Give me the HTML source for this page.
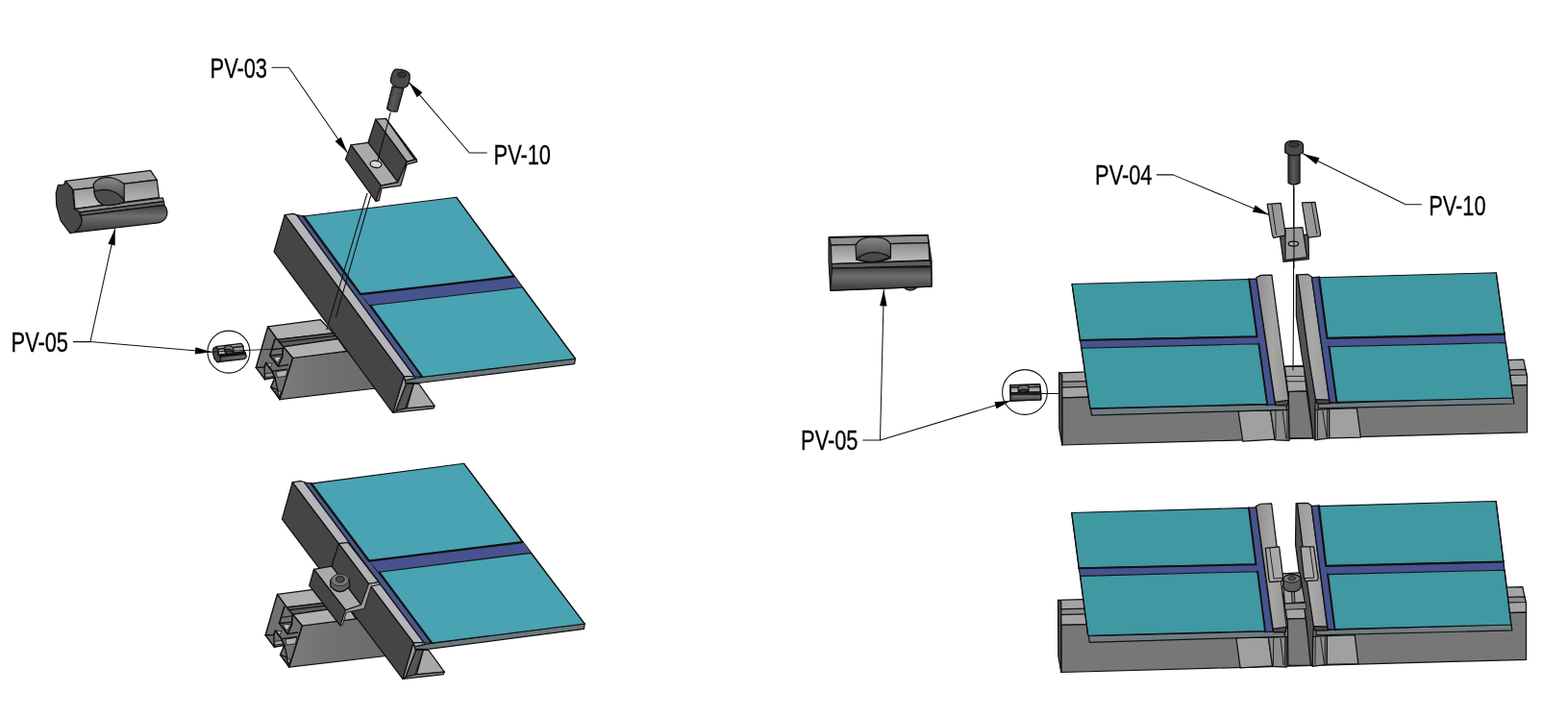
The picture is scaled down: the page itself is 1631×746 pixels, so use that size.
<!DOCTYPE html>
<html lang="en">
<head>
<meta charset="utf-8">
<title>PV mounting assembly</title>
<style>
html,body{margin:0;padding:0;background:#fff;}
body{width:1631px;height:746px;overflow:hidden;}
svg{display:block;filter:blur(0.45px);}
text{font-family:"Liberation Sans",sans-serif;fill:#000;stroke:#000;stroke-width:0.3px;}
polygon,polyline,path,line,ellipse,circle{stroke-linejoin:round;stroke-linecap:round;}
</style>
</head>
<body>
<svg width="1631" height="746" viewBox="0 0 1631 746">
<defs>

<linearGradient id="gScrewL" gradientUnits="userSpaceOnUse" x1="403" y1="100" x2="419" y2="104"><stop offset="0" stop-color="#333"/><stop offset="0.45" stop-color="#5a5a5a"/><stop offset="1" stop-color="#383838"/></linearGradient>
<linearGradient id="gScrewR" gradientUnits="userSpaceOnUse" x1="1340" y1="0" x2="1352" y2="0"><stop offset="0" stop-color="#333"/><stop offset="0.45" stop-color="#5a5a5a"/><stop offset="1" stop-color="#383838"/></linearGradient>
<linearGradient id="gHole" x1="0" y1="0" x2="0" y2="1"><stop offset="0" stop-color="#8a8a8a"/><stop offset="0.6" stop-color="#5a5a5a"/><stop offset="1" stop-color="#444"/></linearGradient>
<linearGradient id="gFrameR" gradientUnits="objectBoundingBox" x1="0" y1="0.5" x2="1" y2="0.55"><stop offset="0" stop-color="#9c9c9c"/><stop offset="0.5" stop-color="#a8a8a6"/><stop offset="1" stop-color="#9696a0"/></linearGradient>
<linearGradient id="gRailL" gradientUnits="userSpaceOnUse" x1="290" y1="0" x2="400" y2="0"><stop offset="0" stop-color="#7c7c7c"/><stop offset="0.4" stop-color="#717171"/><stop offset="1" stop-color="#6a6a6a"/></linearGradient>
<linearGradient id="gNutFront" x1="0" y1="0" x2="0" y2="1"><stop offset="0" stop-color="#8a8a8a"/><stop offset="1" stop-color="#c4c4c4"/></linearGradient>
<linearGradient id="gNutCyl" x1="0" y1="0" x2="0" y2="1"><stop offset="0" stop-color="#3c3c3c"/><stop offset="0.4" stop-color="#6e6e6e"/><stop offset="1" stop-color="#3a3a3a"/></linearGradient>
<linearGradient id="gRound" x1="0" y1="0" x2="1" y2="0"><stop offset="0" stop-color="#8e8e94"/><stop offset="0.5" stop-color="#a6a6a2"/><stop offset="1" stop-color="#949494"/></linearGradient>

</defs>
<rect width="1631" height="746" fill="#fff"/>
<g transform="translate(0,0)">
<polygon points="304.5,372.5 360.54,365.41 400,358 400,403 290.95,415.62" fill="url(#gRailL)" stroke="#111" stroke-width="1.25" />
<polygon points="278.63,339.86 333.26,332.53 346.53,346.54 288.49,353.41" fill="#b0b0ae" stroke="#111" stroke-width="1.25" />
<polygon points="288.49,353.41 346.53,346.54 351.69,352.73 294.65,360.8" fill="#5c5c5c" stroke="#111" stroke-width="1.25" />
<polyline points="290.58,356.12 348.74,349.49" fill="none" stroke="#111" stroke-width="1.25" />
<polygon points="294.65,360.8 351.69,352.73 360.54,365.41 304.5,372.5" fill="#b0b0ae" stroke="#111" stroke-width="1.25" />
<polygon points="278.63,339.86 266.31,382.36 275.55,394.68 286.02,392.83 281.71,402.69 290.95,415.62 304.5,372.5 294.65,360.8 288.49,353.41" fill="#707070" stroke="#111" stroke-width="1.5" />
<polygon points="284.79,371.27 292.8,371.27 288.49,377.43" fill="#c2c2c2" stroke="#111" stroke-width="0.8" />
<polygon points="277.4,378.05 283.19,378.05 280.48,382.98" fill="#c2c2c2" stroke="#111" stroke-width="0.8" />
<polygon points="287.26,386.67 298.96,384.82 297.48,391.35 288.86,392.58" fill="#b0b0b0" stroke="#111" stroke-width="0.8" />
<polygon points="275.8,388.89 282.94,387.9 285.41,391.35 276.54,392.58" fill="#9c9c9c" stroke="#111" stroke-width="0.8" />
<polygon points="286.64,407.37 292.18,407 290.95,411.8" fill="#c2c2c2" stroke="#111" stroke-width="0.8" />
<polyline points="286.02,352.79 280.73,370.04 289.35,381.13 293.79,371.27 294.28,361.79" fill="none" stroke="#111" stroke-width="1.7" />
<polyline points="280.73,370.04 293.79,368.81" fill="none" stroke="#111" stroke-width="1.4" />
<polyline points="283.93,363.88 294.28,362.28" fill="none" stroke="#111" stroke-width="1.2" />
<polyline points="266.31,382.36 274.94,381.99 276.78,377.43 282.94,386.06 286.02,392.83" fill="none" stroke="#111" stroke-width="1.7" />
<polyline points="274.94,381.99 275.55,394.68" fill="none" stroke="#111" stroke-width="1.4" />
<polyline points="289.35,381.13 299.58,379.53" fill="none" stroke="#111" stroke-width="1.4" />
<polyline points="282.94,386.06 298.96,384.21" fill="none" stroke="#111" stroke-width="1.3" />
<polyline points="281.71,402.69 288.49,405.4 290.95,415.62" fill="none" stroke="#111" stroke-width="1.4" />
<polyline points="286.02,392.83 288.86,405.4" fill="none" stroke="#111" stroke-width="1.4" />
</g>
<g transform="">
<polygon points="430.31,399.22 435.74,399.46 452.03,422.38 423.08,425.03" fill="#a8a8a6" stroke="#111" stroke-width="1.25" />
<polygon points="408.6,429.37 411.62,427.2 421.87,424.79 452.03,422.38 451.06,424.79" fill="#8a8a8a" stroke="#111" stroke-width="1.25" />
<polygon points="422.47,399.46 430.31,399.22 421.87,424.79 411.62,427.2" fill="#555" stroke="#111" stroke-width="1.25" />
<polygon points="420.06,391.62 421.87,396.44 422.47,399.46 411.62,427.2 408.6,429.37" fill="#9a9a9a" stroke="#111" stroke-width="1.25" />
<polygon points="421.87,396.44 432.73,393.43 433.33,396.44 430.92,399.46 422.47,399.46" fill="#3a3a3a" stroke="#111" stroke-width="1.25" />
<polygon points="420.06,391.62 431.52,391.01 432.73,393.43 421.87,396.44" fill="#b0b0b0" stroke="#111" stroke-width="1.25" />
<polygon points="439.36,392.22 598.4,373.2 597.6,378.6 437.55,398.25 421.87,398.25 421.27,395.84" fill="#6b787d" stroke="#111" stroke-width="1.25" />
<polygon points="308.5,223.6 315.8,225 439.36,392.22 430.9,391.6" fill="#48588a" stroke="#111" stroke-width="1.25" />
<polygon points="374.86,306.03 534.51,287.73 543.28,299.01 385.39,317.81" fill="#46538e" stroke="none" stroke-width="1.25" />
<polygon points="315.8,225 474.76,205.27 534.51,287.73 374.86,306.03" fill="#49a3b3" stroke="#111" stroke-width="1.1" />
<polygon points="385.39,317.81 543.28,299.01 598.4,373.2 439.36,392.22" fill="#49a3b3" stroke="#111" stroke-width="1.1" />
<polyline points="315.8,225 374.86,306.03 534.51,287.73" fill="none" stroke="#111" stroke-width="2.3" />
<polyline points="385.39,317.81 439.36,392.22" fill="none" stroke="#111" stroke-width="2.0" />
<polyline points="474.76,205.27 598.4,373.2" fill="none" stroke="#111" stroke-width="1.2" />
<polygon points="296.2,223.6 305.1,222.3 308.5,223.6 430.9,391.6 420.06,391.62" fill="#b4b4ba" stroke="#111" stroke-width="1.25" />
<polygon points="296.2,223.6 285.02,261.92 408.6,429.37 420.06,391.62" fill="#464545" stroke="#111" stroke-width="1.25" />
</g>
<polyline points="381.9,201.25 339.8,342.9" fill="none" stroke="#111" stroke-width="1.1" />
<polyline points="385.6,203.75 349.3,330.3" fill="none" stroke="#111" stroke-width="1.1" />
<polygon points="390.7,124.08 401.27,123.38 432.96,165.63 423.1,168.45" fill="#aaaaa8" stroke="#111" stroke-width="1.25" />
<polygon points="401.27,123.38 432.96,165.63 433.66,168.45 431.55,166.34" fill="#666" stroke="#111" stroke-width="1.25" />
<polygon points="382.96,148.31 390.7,124.08 423.1,168.45 413.94,189.58" fill="#464545" stroke="#111" stroke-width="1.25" />
<polygon points="365.07,150.85 382.96,148.31 413.94,189.58 396.34,193.1" fill="#aaaaa8" stroke="#111" stroke-width="1.25" />
<polygon points="365.07,150.85 359.44,165.63 390.99,209.3 396.34,193.1" fill="#464545" stroke="#111" stroke-width="1.25" />
<polygon points="432.96,165.63 433.66,168.45 423.1,171.27 416.76,193.1 397.04,195.92 394.23,208.59 390.99,209.3 396.34,193.1 413.94,189.58 423.1,168.45" fill="#8a8a8a" stroke="#111" stroke-width="1.25" />
<ellipse cx="390.99" cy="170.85" rx="6" ry="3.6" fill="#d8d8d8" stroke="#111" stroke-width="1.25" transform="rotate(8 390.99 170.85)"/>
<polyline points="406.2,117.04 392.82,167.75" fill="none" stroke="#111" stroke-width="1.1" />
<path d="M408.14,89.83 L402.51,113 Q407.2,117.22 413.3,115.82 L419.87,91.89 Z" fill="url(#gScrewL)" stroke="#111" stroke-width="1.25"/>
<path d="M410.96,72.2 Q407.2,75.01 406.27,84.39 Q408.14,90.02 415.65,91.43 Q423.15,91.89 425.03,87.2 Q426.9,81.58 425.97,76.89 Q422.21,71.73 410.96,72.2 Z" fill="#4a4a4a" stroke="#111" stroke-width="1.25"/>
<ellipse cx="417.99" cy="77.64" rx="4.3" ry="2.8" fill="#333" stroke="#111" stroke-width="0.8"/>
<text transform="translate(218.6,80.9) scale(0.757,1)" font-size="28.8">PV-03</text>
<polyline points="283,70.3 300.5,70.3 361.3,158.8" fill="none" stroke="#111" stroke-width="1.05" />
<polygon points="361.3,158.8 348.583,146.911 354.765,142.665" fill="#000"/>
<text transform="translate(513.6,171.2) scale(0.757,1)" font-size="28.8">PV-10</text>
<polyline points="506.3,159 488.2,159 425.5,85.8" fill="none" stroke="#111" stroke-width="1.05" />
<polygon points="425.5,85.8 439.407,96.2716 433.711,101.151" fill="#000"/>
<text transform="translate(11.6,366.3) scale(0.757,1)" font-size="28.8">PV-05</text>
<polyline points="76.4,355.6 93.9,355.6 119.7,238" fill="none" stroke="#111" stroke-width="1.05" />
<polyline points="93.9,355.6 220,366.3" fill="none" stroke="#111" stroke-width="1.05" />
<polygon points="119.7,238 119.72,255.409 112.394,253.801" fill="#000"/>
<polygon points="220,366.3 202.744,368.599 203.378,361.126" fill="#000"/>
<g id="nutL">
<polygon points="68.14,188.34 66.49,192.19 60.44,192.74 58.25,200.98 58.8,214.17 63.19,229.57 73.09,242.76 81.88,240.56 86.83,231.76 87.38,227.92 82.98,224.07 82.98,219.67 77.48,217.47 75.29,196.58" fill="#484848" stroke="#111" stroke-width="1.25" vector-effect="non-scaling-stroke"/>
<polygon points="68.14,188.34 156.64,177.34 163.24,187.24 76.39,197.68" fill="#a3a3a3" stroke="#111" stroke-width="1.25" vector-effect="non-scaling-stroke"/>
<polygon points="76.39,197.68 163.24,187.24 165.44,205.38 78.03,217.47" fill="url(#gNutFront)" stroke="#111" stroke-width="1.25" vector-effect="non-scaling-stroke"/>
<polygon points="78.03,217.47 169.28,205.93 170.38,209.56 82.98,220.77" fill="#8e8e8e" stroke="#111" stroke-width="1.25" vector-effect="non-scaling-stroke"/>
<polygon points="82.98,220.77 170.38,209.56 170.93,213.29 84.08,224.29" fill="#606060" stroke="#111" stroke-width="1.25" vector-effect="non-scaling-stroke"/>
<path d="M84.08,224.29 L170.93,213.29 Q176.43,219.67 172.03,227.37 Q168.73,231.21 164.34,231.98 L77.48,241.88 Q87.93,233.96 84.08,224.29 Z" fill="url(#gNutCyl)" stroke="#111" stroke-width="1.25" vector-effect="non-scaling-stroke"/>
<path d="M97.27,191.64 Q101.67,184.49 112.66,184.49 Q122.56,185.59 129.16,191.64 L129.16,210.33 Q118.16,214.72 107.17,213.07 Q98.37,208.68 97.27,191.64 Z" fill="url(#gHole)" stroke="#111" stroke-width="1.25" vector-effect="non-scaling-stroke"/>
<path d="M97.82,199.33 Q115.96,193.29 128.28,207.03 L129.16,210.33 Q118.16,214.72 107.17,213.07 Q98.92,208.68 97.82,199.33 Z" fill="#4c4c4c" stroke="#111" stroke-width="1.25" vector-effect="non-scaling-stroke"/>
</g>
<circle cx="237.9" cy="366.1" r="22" fill="none" stroke="#111" stroke-width="1.1"/>
<use href="#nutL" transform="translate(238.9,367) scale(0.30) translate(-116.2,-209.5)"/>
<polyline points="216,366.3 293.46,362.75" fill="none" stroke="#111" stroke-width="0.9" />
<g transform="">
<polygon points="1101.5,387.9 1584.8,374.1 1588.5,391.8 1588.5,400.7 1104.8,413.9" fill="#a4a4a4" stroke="#111" stroke-width="1.25" />
<polygon points="1102.5,397.3 1587,384.4 1588,390 1103.5,403.1" fill="#8c8c8c" stroke="#111" stroke-width="1.25" />
<polygon points="1104.8,413.9 1588.5,400.7 1588.5,449.8 1104.8,463" fill="#777777" stroke="#111" stroke-width="1.25" />
<polygon points="1101.52,387.88 1104.83,389.54 1104.83,463.05 1101.85,446.16" fill="#4f4f4f" stroke="#111" stroke-width="1.25" />
<polygon points="1336.3,381.39 1356.41,381.39 1359.09,406.86 1339.65,407.53" fill="#a4a4a4" stroke="#111" stroke-width="1.25" />
<polyline points="1337.64,391.45 1357.48,391.45" fill="none" stroke="#111" stroke-width="0.9" />
<polyline points="1338.31,396.81 1358.02,396.81" fill="none" stroke="#111" stroke-width="0.9" />
<polygon points="1340.32,407.53 1359.09,406.86 1365.79,455.79 1340.99,455.79" fill="#777777" stroke="#111" stroke-width="1.25" />
</g>
<g transform="">
<polygon points="1288.04,427.64 1321.55,426.97 1326.25,457.13 1292.73,459.14" fill="#a0a0a0" stroke="#111" stroke-width="1.25" />
<polygon points="1321.55,426.97 1340.32,426.3 1340.99,458.47 1326.25,457.8" fill="#8c8c8c" stroke="#111" stroke-width="1.25" />
<polyline points="1326.92,427.64 1326.92,457.13" fill="none" stroke="#111" stroke-width="0.9" />
<polyline points="1338.98,427.64 1338.98,457.13" fill="none" stroke="#111" stroke-width="0.9" />
<polyline points="1334.29,428.31 1337.64,455.79" fill="none" stroke="#111" stroke-width="0.9" />
<polygon points="1382.55,425.63 1411.37,424.69 1415.39,455.12 1382.55,455.79" fill="#a0a0a0" stroke="#111" stroke-width="1.25" />
<polygon points="1367.8,426.3 1382.55,425.63 1382.55,455.79 1367.8,457.8" fill="#8c8c8c" stroke="#111" stroke-width="1.25" />
<polyline points="1370.48,426.97 1370.48,456.46" fill="none" stroke="#111" stroke-width="0.9" />
<polyline points="1380.54,426.97 1380.54,455.79" fill="none" stroke="#111" stroke-width="0.9" />
<polyline points="1375.84,427.64 1379.87,454.45" fill="none" stroke="#111" stroke-width="0.9" />
<polygon points="1134.64,425.46 1338.31,420.27 1338.31,426.3 1135.46,432.09" fill="#707e83" stroke="#111" stroke-width="1.25" />
<polygon points="1371.15,419.87 1574.03,413.57 1574.83,420 1371.15,424.96" fill="#707e83" stroke="#111" stroke-width="1.25" />
<polygon points="1298.77,290.38 1306.81,290.11 1326.25,420.94 1316.86,421.61" fill="#46538e" stroke="#111" stroke-width="1.25" />
<polygon points="1123.33,353.71 1307.54,349.95 1309.3,357.72 1125.09,362.23" fill="#46538e" stroke="none" stroke-width="1.25" />
<polygon points="1115.06,295.56 1299.27,290.55 1307.54,349.95 1123.33,353.71" fill="#4098a2" stroke="#111" stroke-width="1.1" />
<polygon points="1125.09,362.23 1309.3,357.72 1318.07,420.38 1133.86,424.89" fill="#4098a2" stroke="#111" stroke-width="1.1" />
<polyline points="1123.33,353.96 1307.54,350.2 1299.27,290.55" fill="none" stroke="#111" stroke-width="2.0" />
<polyline points="1309.3,357.72 1318.07,420.38" fill="none" stroke="#111" stroke-width="1.8" />
<polyline points="1115.06,295.56 1133.86,424.89" fill="none" stroke="#111" stroke-width="1.2" />
<path d="M1306.81,288.77 L1311.5,286.35 1322.9,286.09 1340.32,416.25 1338.98,421.61 1326.92,421.61 1326.25,418.26 Z" fill="url(#gRound)" stroke="#111" stroke-width="1.25"/>
<polygon points="1326.25,418.26 1340.32,416.25 1338.98,421.61 1326.92,421.61" fill="#4f4f4f" stroke="#111" stroke-width="1.25" />
<polygon points="1348.36,285.82 1349.97,286.76 1361.1,370 1368.47,415.58 1367.8,426.3 1367.8,455.79 1365.79,455.79 1360.43,407.53 1354.13,370 1348.36,328.98" fill="#525252" stroke="#111" stroke-width="1.25" />
<polygon points="1349.71,285.82 1360.43,285.42 1364.45,288.1 1382.55,416.25 1368.47,415.58 1361.1,370" fill="url(#gFrameR)" stroke="#111" stroke-width="1.25" />
<polygon points="1368.47,415.58 1382.55,416.25 1383.22,419.87 1370.08,419.87" fill="#4a4a4a" stroke="#111" stroke-width="1.25" />
<polygon points="1364.45,288.77 1372.49,288.1 1391.26,419.6 1383.22,418.26" fill="#46538e" stroke="#111" stroke-width="1.25" />
<polygon points="1380.39,351.7 1565.11,347.44 1566.36,356.47 1382.4,360.73" fill="#46538e" stroke="none" stroke-width="1.25" />
<polygon points="1372.12,288.8 1556.33,283.78 1565.11,347.44 1380.39,351.7" fill="#4098a2" stroke="#111" stroke-width="1.1" />
<polygon points="1382.4,360.73 1566.36,356.47 1573.88,414.11 1390.42,418.37" fill="#4098a2" stroke="#111" stroke-width="1.1" />
<polyline points="1372.12,288.8 1380.39,351.95 1565.11,347.69" fill="none" stroke="#111" stroke-width="2.2" />
<polyline points="1382.4,360.73 1390.42,418.37" fill="none" stroke="#111" stroke-width="2.0" />
<polyline points="1556.33,283.78 1573.88,414.11" fill="none" stroke="#111" stroke-width="1.2" />
</g>
<polyline points="1345.54,192.16 1345.54,316.97 1345.01,384.75" fill="none" stroke="#111" stroke-width="1.1" />
<polygon points="1331.31,245.16 1360.99,244.23 1361.36,269.58 1335.07,272.39" fill="#555" stroke="#111" stroke-width="1.25" />
<polygon points="1336.95,237.65 1354.79,236.71 1359.48,267.7 1336.95,270.52" fill="#9a9a9a" stroke="#111" stroke-width="1.25" />
<polygon points="1318.17,212.3 1332.25,211.36 1336.95,242.35 1336.01,245.16 1324.74,247.42 1323.43,244.23" fill="#999" stroke="#111" stroke-width="1.25" />
<polygon points="1354.41,210.99 1367.93,210.42 1373.57,242.91 1373.19,245.54 1360.99,247.04 1359.48,243.29" fill="#999" stroke="#111" stroke-width="1.25" />
<polyline points="1322.86,212.3 1327.56,244.23" fill="none" stroke="#111" stroke-width="0.9" />
<polyline points="1364.18,210.99 1369.81,243.29" fill="none" stroke="#111" stroke-width="0.9" />
<ellipse cx="1345.4" cy="253.62" rx="5.2" ry="2.6" fill="#aaa" stroke="#111" stroke-width="1.25"/>
<polyline points="1345.96,194.46 1345.96,278.97" fill="none" stroke="#111" stroke-width="1.1" />
<path d="M1340.03,161.33 L1340.03,190.15 Q1345.54,193.91 1352.06,190.15 L1352.06,161.33 Z" fill="url(#gScrewR)" stroke="#111" stroke-width="1.25"/>
<path d="M1336.77,151.3 Q1336.77,146.29 1346.04,146.29 Q1355.56,146.29 1355.56,151.3 L1355.56,158.82 Q1346.04,165.09 1336.77,158.82 Z" fill="#4a4a4a" stroke="#111" stroke-width="1.25"/>
<ellipse cx="1346.04" cy="150.55" rx="5" ry="2.5" fill="#3a3a3a" stroke="#111" stroke-width="0.8"/>
<text transform="translate(1139.1,192.1) scale(0.757,1)" font-size="28.8">PV-04</text>
<polyline points="1203.43,181.88 1220.23,181.88 1319.97,223.48" fill="none" stroke="#111" stroke-width="1.05" />
<polygon points="1319.97,223.48 1302.84,220.397 1305.72,213.475" fill="#000"/>
<text transform="translate(1486.2,223.6) scale(0.757,1)" font-size="28.8">PV-10</text>
<polyline points="1478.37,212.71 1462.08,212.71 1355.56,160.08" fill="none" stroke="#111" stroke-width="1.05" />
<polygon points="1355.56,160.08 1372.46,164.248 1369.14,170.972" fill="#000"/>
<text transform="translate(833.1,468.1) scale(0.757,1)" font-size="28.8">PV-05</text>
<polyline points="897.67,458.07 915.49,458.07 919.31,301.46" fill="none" stroke="#111" stroke-width="1.05" />
<polyline points="915.49,458.07 1051.73,416.81" fill="none" stroke="#111" stroke-width="1.05" />
<polygon points="919.31,301.46 922.644,318.546 915.147,318.364" fill="#000"/>
<polygon points="1051.73,416.81 1036.55,425.326 1034.37,418.148" fill="#000"/>
<g id="nutR">
<polygon points="862.06,246.61 965.06,244.38 969.01,271.5 969.01,298.11 863.78,302.4 862.06,271.5" fill="#444" stroke="#111" stroke-width="1.25" vector-effect="non-scaling-stroke"/>
<polygon points="862.92,247.47 965.06,244.89 965.92,252.62 864.29,255.19" fill="#8e8e8e" stroke="#111" stroke-width="1.25" vector-effect="non-scaling-stroke"/>
<polygon points="864.29,255.19 965.92,252.62 966.78,270.64 864.98,274.59" fill="url(#gNutFront)" stroke="#111" stroke-width="1.25" vector-effect="non-scaling-stroke"/>
<polygon points="864.98,274.59 967.64,271.16 968.5,276.65 865.49,279.23" fill="#5e5e5e" stroke="#111" stroke-width="1.25" vector-effect="non-scaling-stroke"/>
<polygon points="865.49,279.23 968.5,277.51 969.01,298.11 863.78,302.06" fill="url(#gNutCyl)" stroke="#111" stroke-width="1.25" vector-effect="non-scaling-stroke"/>
<path d="M890.04,256.05 Q892.1,247.12 908.41,246.61 Q924.72,247.12 926.44,255.19 L926.44,268.93 Q909.27,275.79 890.73,269.79 Z" fill="url(#gHole)" stroke="#111" stroke-width="1.25" vector-effect="non-scaling-stroke"/>
<path d="M890.73,269.79 Q905.84,256.91 925.58,267.21 Q909.27,275.79 890.73,269.79 Z" fill="#4a4a4a" stroke="#111" stroke-width="1.25" vector-effect="non-scaling-stroke"/>
</g>
<path d="M940.17,299.31 Q947.04,304.98 953.91,298.97 Z" fill="#555" stroke="#111" stroke-width="1.25"/>
<circle cx="1066" cy="408" r="23.4" fill="none" stroke="#111" stroke-width="1.1"/>
<use href="#nutR" transform="translate(1066.7,408.55) scale(0.30) translate(-915.5,-273.4)"/>
<polyline points="1082.5,409.5 1101.4,409.5" fill="none" stroke="#111" stroke-width="1.0" />
<g transform="translate(-1,236.5)">
<polygon points="1101.5,387.9 1584.8,374.1 1588.5,391.8 1588.5,400.7 1104.8,413.9" fill="#a4a4a4" stroke="#111" stroke-width="1.25" />
<polygon points="1102.5,397.3 1587,384.4 1588,390 1103.5,403.1" fill="#8c8c8c" stroke="#111" stroke-width="1.25" />
<polygon points="1104.8,413.9 1588.5,400.7 1588.5,449.8 1104.8,463" fill="#777777" stroke="#111" stroke-width="1.25" />
<polygon points="1101.52,387.88 1104.83,389.54 1104.83,463.05 1101.85,446.16" fill="#4f4f4f" stroke="#111" stroke-width="1.25" />
<polygon points="1336.3,381.39 1356.41,381.39 1359.09,406.86 1339.65,407.53" fill="#a4a4a4" stroke="#111" stroke-width="1.25" />
<polyline points="1337.64,391.45 1357.48,391.45" fill="none" stroke="#111" stroke-width="0.9" />
<polyline points="1338.31,396.81 1358.02,396.81" fill="none" stroke="#111" stroke-width="0.9" />
<polygon points="1340.32,407.53 1359.09,406.86 1365.79,455.79 1340.99,455.79" fill="#777777" stroke="#111" stroke-width="1.25" />
</g>
<g transform="matrix(1.00001 -0.00110 -0.01384 0.98693 3.711 243.093)">
<polygon points="1288.04,427.64 1321.55,426.97 1326.25,457.13 1292.73,459.14" fill="#a0a0a0" stroke="#111" stroke-width="1.25" />
<polygon points="1321.55,426.97 1340.32,426.3 1340.99,458.47 1326.25,457.8" fill="#8c8c8c" stroke="#111" stroke-width="1.25" />
<polyline points="1326.92,427.64 1326.92,457.13" fill="none" stroke="#111" stroke-width="0.9" />
<polyline points="1338.98,427.64 1338.98,457.13" fill="none" stroke="#111" stroke-width="0.9" />
<polyline points="1334.29,428.31 1337.64,455.79" fill="none" stroke="#111" stroke-width="0.9" />
<polygon points="1382.55,425.63 1411.37,424.69 1415.39,455.12 1382.55,455.79" fill="#a0a0a0" stroke="#111" stroke-width="1.25" />
<polygon points="1367.8,426.3 1382.55,425.63 1382.55,455.79 1367.8,457.8" fill="#8c8c8c" stroke="#111" stroke-width="1.25" />
<polyline points="1370.48,426.97 1370.48,456.46" fill="none" stroke="#111" stroke-width="0.9" />
<polyline points="1380.54,426.97 1380.54,455.79" fill="none" stroke="#111" stroke-width="0.9" />
<polyline points="1375.84,427.64 1379.87,454.45" fill="none" stroke="#111" stroke-width="0.9" />
<polygon points="1134.64,425.46 1338.31,420.27 1338.31,426.3 1135.46,432.09" fill="#707e83" stroke="#111" stroke-width="1.25" />
<polygon points="1371.15,419.87 1574.03,413.57 1574.83,420 1371.15,424.96" fill="#707e83" stroke="#111" stroke-width="1.25" />
<polygon points="1298.77,290.38 1306.81,290.11 1326.25,420.94 1316.86,421.61" fill="#46538e" stroke="#111" stroke-width="1.25" />
<polygon points="1123.33,353.71 1307.54,349.95 1309.3,357.72 1125.09,362.23" fill="#46538e" stroke="none" stroke-width="1.25" />
<polygon points="1115.06,295.56 1299.27,290.55 1307.54,349.95 1123.33,353.71" fill="#4098a2" stroke="#111" stroke-width="1.1" />
<polygon points="1125.09,362.23 1309.3,357.72 1318.07,420.38 1133.86,424.89" fill="#4098a2" stroke="#111" stroke-width="1.1" />
<polyline points="1123.33,353.96 1307.54,350.2 1299.27,290.55" fill="none" stroke="#111" stroke-width="2.0" />
<polyline points="1309.3,357.72 1318.07,420.38" fill="none" stroke="#111" stroke-width="1.8" />
<polyline points="1115.06,295.56 1133.86,424.89" fill="none" stroke="#111" stroke-width="1.2" />
<path d="M1306.81,288.77 L1311.5,286.35 1322.9,286.09 1340.32,416.25 1338.98,421.61 1326.92,421.61 1326.25,418.26 Z" fill="url(#gRound)" stroke="#111" stroke-width="1.25"/>
<polygon points="1326.25,418.26 1340.32,416.25 1338.98,421.61 1326.92,421.61" fill="#4f4f4f" stroke="#111" stroke-width="1.25" />
<polygon points="1348.36,285.82 1349.97,286.76 1361.1,370 1368.47,415.58 1367.8,426.3 1367.8,455.79 1365.79,455.79 1360.43,407.53 1354.13,370 1348.36,328.98" fill="#525252" stroke="#111" stroke-width="1.25" />
<polygon points="1349.71,285.82 1360.43,285.42 1364.45,288.1 1382.55,416.25 1368.47,415.58 1361.1,370" fill="url(#gFrameR)" stroke="#111" stroke-width="1.25" />
<polygon points="1368.47,415.58 1382.55,416.25 1383.22,419.87 1370.08,419.87" fill="#4a4a4a" stroke="#111" stroke-width="1.25" />
<polygon points="1364.45,288.77 1372.49,288.1 1391.26,419.6 1383.22,418.26" fill="#46538e" stroke="#111" stroke-width="1.25" />
<polygon points="1380.39,351.7 1565.11,347.44 1566.36,356.47 1382.4,360.73" fill="#46538e" stroke="none" stroke-width="1.25" />
<polygon points="1372.12,288.8 1556.33,283.78 1565.11,347.44 1380.39,351.7" fill="#4098a2" stroke="#111" stroke-width="1.1" />
<polygon points="1382.4,360.73 1566.36,356.47 1573.88,414.11 1390.42,418.37" fill="#4098a2" stroke="#111" stroke-width="1.1" />
<polyline points="1372.12,288.8 1380.39,351.95 1565.11,347.69" fill="none" stroke="#111" stroke-width="2.2" />
<polyline points="1382.4,360.73 1390.42,418.37" fill="none" stroke="#111" stroke-width="2.0" />
<polyline points="1556.33,283.78 1573.88,414.11" fill="none" stroke="#111" stroke-width="1.2" />
</g>
<polygon points="1333.76,596.85 1352.05,595.98 1357.27,626.46 1336.38,628.2" fill="#a0a0a0" stroke="#111" stroke-width="1.25" />
<polygon points="1336.38,628.2 1358.15,627.33 1359.02,633.43 1337.25,634.3" fill="#888" stroke="#111" stroke-width="0.9" />
<polygon points="1343.69,615.14 1346.3,615.14 1347,626.81 1344.56,626.98" fill="#777" stroke="#111" stroke-width="0.9" />
<polygon points="1316.35,570.38 1330.63,568.99 1334.63,601.21 1332.89,604.69 1320.7,605.56 1319.83,602.08" fill="#a8a8a8" stroke="#111" stroke-width="1.25" />
<polyline points="1320.7,570.73 1325.06,602.08 1334.63,601.21" fill="none" stroke="#111" stroke-width="0.9" />
<polygon points="1352.92,568.99 1366.5,568.99 1371.21,601.21 1370.34,603.82 1358.15,604.69 1356.4,601.21" fill="#a8a8a8" stroke="#111" stroke-width="1.25" />
<polyline points="1362.5,569.34 1366.85,601.21 1356.4,601.56" fill="none" stroke="#111" stroke-width="0.9" />
<path d="M1334.98,602.08 L1334.98,610.79 C1337.25,617.4 1350.83,617.4 1353.27,610.79 L1353.27,602.08 C1350.83,595.98 1337.25,595.98 1334.98,602.08 Z" fill="#5c5c5c" stroke="#111" stroke-width="1.25"/>
<ellipse cx="1343.86" cy="602.08" rx="8.8" ry="4" fill="#7a7a7a" stroke="#111" stroke-width="0.9"/>
<ellipse cx="1343.86" cy="601.73" rx="4" ry="2" fill="#555" stroke="#111" stroke-width="0.8"/>
<g transform="translate(9.8,278.5)">
<polygon points="304.5,372.5 360.54,365.41 400,358 400,403 290.95,415.62" fill="url(#gRailL)" stroke="#111" stroke-width="1.25" />
<polygon points="278.63,339.86 333.26,332.53 346.53,346.54 288.49,353.41" fill="#b0b0ae" stroke="#111" stroke-width="1.25" />
<polygon points="288.49,353.41 346.53,346.54 351.69,352.73 294.65,360.8" fill="#5c5c5c" stroke="#111" stroke-width="1.25" />
<polyline points="290.58,356.12 348.74,349.49" fill="none" stroke="#111" stroke-width="1.25" />
<polygon points="294.65,360.8 351.69,352.73 360.54,365.41 304.5,372.5" fill="#b0b0ae" stroke="#111" stroke-width="1.25" />
<polygon points="278.63,339.86 266.31,382.36 275.55,394.68 286.02,392.83 281.71,402.69 290.95,415.62 304.5,372.5 294.65,360.8 288.49,353.41" fill="#707070" stroke="#111" stroke-width="1.5" />
<polygon points="284.79,371.27 292.8,371.27 288.49,377.43" fill="#c2c2c2" stroke="#111" stroke-width="0.8" />
<polygon points="277.4,378.05 283.19,378.05 280.48,382.98" fill="#c2c2c2" stroke="#111" stroke-width="0.8" />
<polygon points="287.26,386.67 298.96,384.82 297.48,391.35 288.86,392.58" fill="#b0b0b0" stroke="#111" stroke-width="0.8" />
<polygon points="275.8,388.89 282.94,387.9 285.41,391.35 276.54,392.58" fill="#9c9c9c" stroke="#111" stroke-width="0.8" />
<polygon points="286.64,407.37 292.18,407 290.95,411.8" fill="#c2c2c2" stroke="#111" stroke-width="0.8" />
<polyline points="286.02,352.79 280.73,370.04 289.35,381.13 293.79,371.27 294.28,361.79" fill="none" stroke="#111" stroke-width="1.7" />
<polyline points="280.73,370.04 293.79,368.81" fill="none" stroke="#111" stroke-width="1.4" />
<polyline points="283.93,363.88 294.28,362.28" fill="none" stroke="#111" stroke-width="1.2" />
<polyline points="266.31,382.36 274.94,381.99 276.78,377.43 282.94,386.06 286.02,392.83" fill="none" stroke="#111" stroke-width="1.7" />
<polyline points="274.94,381.99 275.55,394.68" fill="none" stroke="#111" stroke-width="1.4" />
<polyline points="289.35,381.13 299.58,379.53" fill="none" stroke="#111" stroke-width="1.4" />
<polyline points="282.94,386.06 298.96,384.21" fill="none" stroke="#111" stroke-width="1.3" />
<polyline points="281.71,402.69 288.49,405.4 290.95,415.62" fill="none" stroke="#111" stroke-width="1.4" />
<polyline points="286.02,392.83 288.86,405.4" fill="none" stroke="#111" stroke-width="1.4" />
</g>
<g transform="matrix(1.00037 -0.00715 0.01110 0.99812 5.385 280.782)">
<polygon points="430.31,399.22 435.74,399.46 452.03,422.38 423.08,425.03" fill="#a8a8a6" stroke="#111" stroke-width="1.25" />
<polygon points="408.6,429.37 411.62,427.2 421.87,424.79 452.03,422.38 451.06,424.79" fill="#8a8a8a" stroke="#111" stroke-width="1.25" />
<polygon points="422.47,399.46 430.31,399.22 421.87,424.79 411.62,427.2" fill="#555" stroke="#111" stroke-width="1.25" />
<polygon points="420.06,391.62 421.87,396.44 422.47,399.46 411.62,427.2 408.6,429.37" fill="#9a9a9a" stroke="#111" stroke-width="1.25" />
<polygon points="421.87,396.44 432.73,393.43 433.33,396.44 430.92,399.46 422.47,399.46" fill="#3a3a3a" stroke="#111" stroke-width="1.25" />
<polygon points="420.06,391.62 431.52,391.01 432.73,393.43 421.87,396.44" fill="#b0b0b0" stroke="#111" stroke-width="1.25" />
<polygon points="439.36,392.22 598.4,373.2 597.6,378.6 437.55,398.25 421.87,398.25 421.27,395.84" fill="#6b787d" stroke="#111" stroke-width="1.25" />
<polygon points="308.5,223.6 315.8,225 439.36,392.22 430.9,391.6" fill="#48588a" stroke="#111" stroke-width="1.25" />
<polygon points="374.86,306.03 534.51,287.73 543.28,299.01 385.39,317.81" fill="#46538e" stroke="none" stroke-width="1.25" />
<polygon points="315.8,225 474.76,205.27 534.51,287.73 374.86,306.03" fill="#49a3b3" stroke="#111" stroke-width="1.1" />
<polygon points="385.39,317.81 543.28,299.01 598.4,373.2 439.36,392.22" fill="#49a3b3" stroke="#111" stroke-width="1.1" />
<polyline points="315.8,225 374.86,306.03 534.51,287.73" fill="none" stroke="#111" stroke-width="2.3" />
<polyline points="385.39,317.81 439.36,392.22" fill="none" stroke="#111" stroke-width="2.0" />
<polyline points="474.76,205.27 598.4,373.2" fill="none" stroke="#111" stroke-width="1.2" />
<polygon points="296.2,223.6 305.1,222.3 308.5,223.6 430.9,391.6 420.06,391.62" fill="#b4b4ba" stroke="#111" stroke-width="1.25" />
<polygon points="296.2,223.6 285.02,261.92 408.6,429.37 420.06,391.62" fill="#464545" stroke="#111" stroke-width="1.25" />
</g>
<polygon points="352.28,565.74 361.93,564.45 394.1,605.95 383.64,607.56" fill="#b0b0b0" stroke="#111" stroke-width="1.25" />
<polygon points="345.04,589.06 352.28,565.74 383.64,607.56 375.6,629.27" fill="#464545" stroke="#111" stroke-width="1.25" />
<polygon points="326.54,592.28 345.04,589.06 375.6,629.27 359.51,634.9" fill="#aaaaa8" stroke="#111" stroke-width="1.25" />
<polygon points="326.54,592.28 321.71,609.17 353.88,650.99 359.51,634.9" fill="#464545" stroke="#111" stroke-width="1.25" />
<polygon points="394.1,605.95 394.9,608.36 386.05,609.97 378.82,633.29 360.32,637.31 356.3,650.18 353.88,650.99 359.51,634.9 375.6,629.27 383.64,607.56" fill="#9a9a9a" stroke="#111" stroke-width="0.9" />
<path d="M343.75,603.54 L343.75,609.97 Q353.56,621.23 363.54,609.97 L363.54,603.54 Q353.56,593.08 343.75,603.54 Z" fill="#5e5e5e" stroke="#111" stroke-width="1.25"/>
<ellipse cx="353.72" cy="603.54" rx="9.2" ry="6.2" fill="#747474" stroke="#222" stroke-width="0.8"/>
<ellipse cx="353.88" cy="602.73" rx="4.3" ry="3.2" fill="#4a4a4a" stroke="#111" stroke-width="0.8"/>
</svg>
</body>
</html>
